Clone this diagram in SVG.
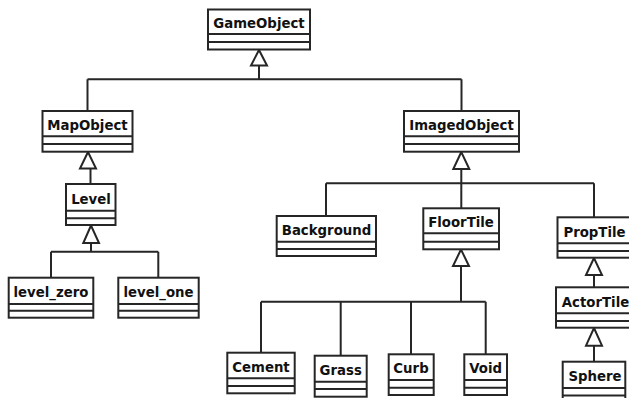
<svg xmlns="http://www.w3.org/2000/svg" width="629" height="398" viewBox="0 0 629 398">
<style>
.box{fill:#fff;stroke:#262626;stroke-width:2}
.div{stroke:#262626;stroke-width:2;fill:none}
.lbl{font-family:"DejaVu Sans",sans-serif;font-weight:bold;font-size:13.3px;fill:#111;text-anchor:middle}
.edge{stroke:#262626;stroke-width:2;fill:none}
.tri{fill:#fff;stroke:#262626;stroke-width:2;stroke-linejoin:miter}
</style>
<rect width="629" height="398" fill="#fff"/>
<g id="connectors">
<path class="edge" d="M259,65.5V79.3M87.5,79.3H461.5M87.5,79.3V111M461.5,79.3V111"/>
<polygon class="tri" points="259,50 251,65.5 267,65.5"/>
<path class="edge" d="M90.5,168.5V184"/>
<polygon class="tri" points="88,152 80,168.5 96,168.5"/>
<path class="edge" d="M91,243V251.7M51,251.7H158.3M51,251.7V277.7M158.3,251.7V277.7"/>
<polygon class="tri" points="91,225.5 83.3,243 99,243"/>
<path class="edge" d="M461.3,169V208.3M326,183.3H594M326,183.3V216M594,183.3V217.3"/>
<polygon class="tri" points="461.3,152 453.3,169 469.3,169"/>
<path class="edge" d="M461,266V301.7M261,301.7H485.7M261,301.7V352.7M340.7,301.7V355.7M411,301.7V354.3M485.7,301.7V354.3"/>
<polygon class="tri" points="461,249.5 453,266 469,266"/>
<path class="edge" d="M594,275V287.3"/>
<polygon class="tri" points="594,258 586,275 602,275"/>
<path class="edge" d="M594,345.7V361.7"/>
<polygon class="tri" points="594,328 586,345.7 602,345.7"/>
</g>
<g id="GameObject">
<rect class="box" x="208" y="9.5" width="102" height="40"/>
<path class="div" d="M208,34H310M208,42H310"/>
<text class="lbl" x="259" y="28">GameObject</text>
</g>
<g id="MapObject">
<rect class="box" x="42.5" y="111" width="90" height="40.7"/>
<path class="div" d="M42.5,136.3H132.5M42.5,144H132.5"/>
<text class="lbl" x="87.5" y="130">MapObject</text>
</g>
<g id="Level">
<rect class="box" x="66" y="184" width="49.5" height="41"/>
<path class="div" d="M66,210.7H115.5M66,218.3H115.5"/>
<text class="lbl" x="91" y="203.6">Level</text>
</g>
<g id="level_zero">
<rect class="box" x="8.7" y="277.7" width="84.6" height="40"/>
<path class="div" d="M8.7,304H93.3M8.7,310.7H93.3"/>
<text class="lbl" x="51" y="296.5">level_zero</text>
</g>
<g id="level_one">
<rect class="box" x="118.3" y="277.7" width="80.4" height="40"/>
<path class="div" d="M118.3,304H198.7M118.3,310.7H198.7"/>
<text class="lbl" x="158.5" y="296.5">level_one</text>
</g>
<g id="ImagedObject">
<rect class="box" x="404" y="111" width="115" height="40.7"/>
<path class="div" d="M404,136.3H519M404,144H519"/>
<text class="lbl" x="461.5" y="130">ImagedObject</text>
</g>
<g id="Background">
<rect class="box" x="276.7" y="216" width="99.3" height="40"/>
<path class="div" d="M276.7,241.7H376M276.7,249H376"/>
<text class="lbl" x="326.5" y="235">Background</text>
</g>
<g id="FloorTile">
<rect class="box" x="423.3" y="208.3" width="75.7" height="41"/>
<path class="div" d="M423.3,233.3H499M423.3,241.7H499"/>
<text class="lbl" x="461" y="227">FloorTile</text>
</g>
<g id="PropTile">
<rect class="box" x="557.5" y="217.3" width="73" height="40.4"/>
<path class="div" d="M557.5,243.3H630.5M557.5,251H630.5"/>
<text class="lbl" x="594.5" y="236.5">PropTile</text>
</g>
<g id="ActorTile">
<rect class="box" x="556" y="287.3" width="77" height="40.4"/>
<path class="div" d="M556,313.3H633M556,321H633"/>
<text class="lbl" x="595.5" y="306.5">ActorTile</text>
</g>
<g id="Sphere">
<rect class="box" x="562.7" y="361.7" width="62.6" height="42"/>
<path class="div" d="M562.7,388H625.3M562.7,395.5H625.3"/>
<text class="lbl" x="595" y="380.5">Sphere</text>
</g>
<g id="Cement">
<rect class="box" x="227.3" y="352.7" width="67.4" height="40.6"/>
<path class="div" d="M227.3,378.3H294.7M227.3,386H294.7"/>
<text class="lbl" x="261" y="371.5">Cement</text>
</g>
<g id="Grass">
<rect class="box" x="314.7" y="355.7" width="52" height="41"/>
<path class="div" d="M314.7,381.7H366.7M314.7,389H366.7"/>
<text class="lbl" x="340.7" y="374.7">Grass</text>
</g>
<g id="Curb">
<rect class="box" x="388.7" y="354.3" width="45" height="40.7"/>
<path class="div" d="M388.7,380H433.7M388.7,387.7H433.7"/>
<text class="lbl" x="411" y="373.3">Curb</text>
</g>
<g id="Void">
<rect class="box" x="464.3" y="354.3" width="42.7" height="40.7"/>
<path class="div" d="M464.3,380H507M464.3,387.7H507"/>
<text class="lbl" x="485.7" y="373.3">Void</text>
</g>
</svg>
